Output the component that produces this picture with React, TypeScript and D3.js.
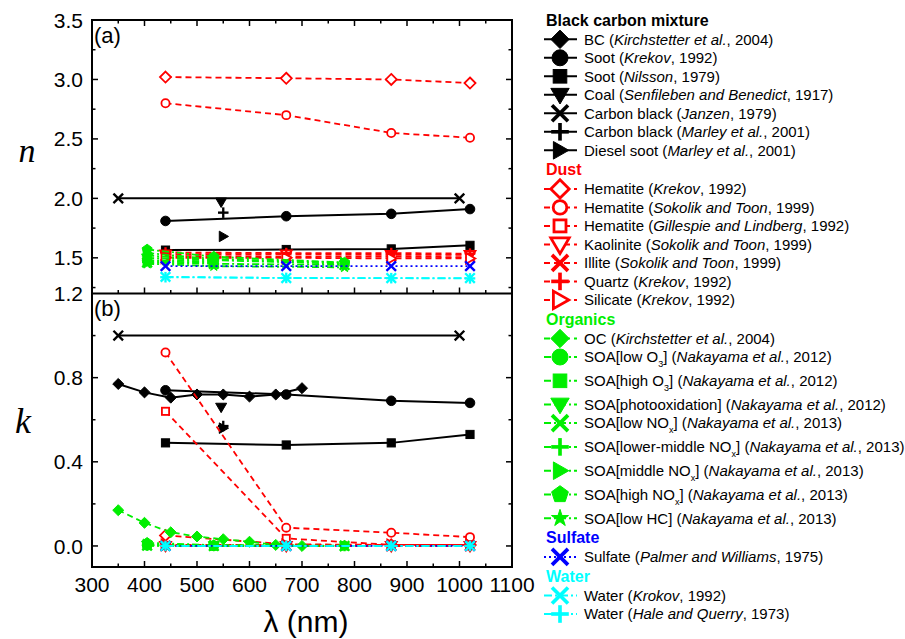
import React from 'react';
import * as d3 from 'd3';

// ---------- data ----------
const WL4 = [440, 670, 870, 1020];
const WL_BC = [350, 400, 450, 500, 550, 600, 650, 700];
const K_BC = [0.77, 0.73, 0.705, 0.72, 0.72, 0.71, 0.72, 0.75];
const N_SOOT_K = [1.81, 1.85, 1.87, 1.91];
const K_SOOT_K = [0.74, 0.72, 0.69, 0.68];
const N_SOOT_N = [1.565, 1.57, 1.575, 1.605];
const K_SOOT_N = [0.49, 0.48, 0.49, 0.53];
const WL_COAL = [546];
const N_COAL = [1.97];
const K_COAL = [0.66];
const WL_CBJ = [350, 1000];
const N_CBJ = [2.0, 2.0];
const K_CBJ = [1.0, 1.0];
const WL_MARLEY = [550];
const N_CBM = [1.88];
const K_CBM = [0.57];
const N_DIESEL = [1.68];
const K_DIESEL = [0.56];

const N_HEM_K = [3.02, 3.01, 3.0, 2.97];
const K_HEM_K = [0.05, 0.008, 0.005, 0.004];
const N_HEM_S = [2.8, 2.7, 2.55, 2.51];
const K_HEM_S = [0.92, 0.087, 0.063, 0.042];
const K_HEM_G = [0.64, 0.036, 0.005, 0.005];
const N_KAOL = [1.53, 1.53, 1.525, 1.525];
const K_KAOL = [0.001, 0.0005, 0.0005, 0.0005];
const N_ILL = [1.515, 1.51, 1.51, 1.505];
const K_ILL = [0.002, 0.001, 0.001, 0.001];
const N_QTZ = [1.545, 1.54, 1.54, 1.535];
const K_QTZ = [0, 0, 0, 0];
const N_SIL = [1.5, 1.5, 1.495, 1.495];
const K_SIL = [0.005, 0.005, 0.005, 0.005];

const WL_OC = [350, 400, 450, 500, 550, 600, 650, 700];
const K_OC = [0.17, 0.11, 0.065, 0.045, 0.032, 0.02, 0.005, 0.0];
const WL_N12 = [405, 532];
const WL_N13 = [405, 532, 781];
const N_LOWO3 = [1.48, 1.47];
const K_LOWO3 = [0.003, 0.0];
const N_HIGHO3 = [1.47, 1.46];
const K_HIGHO3 = [0.002, 0.0];
const N_PHOTO = [1.5, 1.48];
const K_PHOTO = [0.004, 0.002];
const N_LOWNOX = [1.46, 1.45, 1.44];
const K_LOWNOX = [0.002, 0.0, 0.0];
const N_LMNOX = [1.52, 1.48, 1.45];
const K_LMNOX = [0.005, 0.001, 0.0];
const N_MIDNOX = [1.54, 1.49, 1.46];
const K_MIDNOX = [0.008, 0.002, 0.0];
const N_HIGHNOX = [1.57, 1.51, 1.46];
const K_HIGHNOX = [0.015, 0.004, 0.001];
const N_LOWHC = [1.45, 1.43, 1.42];
const K_LOWHC = [0.003, 0.0, 0.0];

const N_SULF = [1.43, 1.43, 1.43, 1.43];
const K_SULF = [0, 0, 0, 0];
const N_WAT_K = [1.34, 1.33, 1.33, 1.33];
const K_WAT_K = [0, 0, 0, 0];
const N_WAT_H = [1.337, 1.331, 1.329, 1.327];
const K_WAT_H = [0, 0, 0, 0];

const X_TICKS = [300, 400, 500, 600, 700, 800, 900, 1000, 1100];
const NA_TICKS = [1.2, 1.5, 2.0, 2.5, 3.0, 3.5];
const NA_TICK_LABELS = ['1.2', '1.5', '2.0', '2.5', '3.0', '3.5'];
const KB_TICKS = [0.0, 0.4, 0.8];
const KB_TICK_LABELS = ['0.0', '0.4', '0.8'];

// ---------- styles ----------
const BLACK = '#000000';
const RED = '#ff0000';
const GREEN = '#00ee00';
const BLUE = '#0000ff';
const CYAN = '#00ffff';
const DASH_RED = '6,4';
const DASH_GREEN = '7,3,2,3';
const DASH_OC = '6,4';
const DOT = '2,3';
const DASH_DOT = '8,3,2,3';

type Series = {
  label: string; color: string; marker: string; open?: boolean; dash?: string;
  wl: number[]; n?: number[]; k?: number[];
};
type Group = { title: string; color: string; series: Series[] };

const GROUPS: Group[] = [
  {
    title: 'Black carbon mixture', color: BLACK, series: [
      { label: 'BC (<i>Kirchstetter et al.</i>, 2004)', color: BLACK, marker: 'diamond', wl: WL_BC, k: K_BC },
      { label: 'Soot (<i>Krekov</i>, 1992)', color: BLACK, marker: 'circle', wl: WL4, n: N_SOOT_K, k: K_SOOT_K },
      { label: 'Soot (<i>Nilsson</i>, 1979)', color: BLACK, marker: 'square', wl: WL4, n: N_SOOT_N, k: K_SOOT_N },
      { label: 'Coal (<i>Senfileben and Benedict</i>, 1917)', color: BLACK, marker: 'triDown', wl: WL_COAL, n: N_COAL, k: K_COAL },
      { label: 'Carbon black (<i>Janzen</i>, 1979)', color: BLACK, marker: 'x', wl: WL_CBJ, n: N_CBJ, k: K_CBJ },
      { label: 'Carbon black (<i>Marley et al.</i>, 2001)', color: BLACK, marker: 'plus', wl: WL_MARLEY, n: N_CBM, k: K_CBM },
      { label: 'Diesel soot (<i>Marley et al.</i>, 2001)', color: BLACK, marker: 'triRight', wl: WL_MARLEY, n: N_DIESEL, k: K_DIESEL },
    ]
  },
  {
    title: 'Dust', color: RED, series: [
      { label: 'Hematite (<i>Krekov</i>, 1992)', color: RED, marker: 'diamond', open: true, dash: DASH_RED, wl: WL4, n: N_HEM_K, k: K_HEM_K },
      { label: 'Hematite (<i>Sokolik and Toon</i>, 1999)', color: RED, marker: 'circle', open: true, dash: DASH_RED, wl: WL4, n: N_HEM_S, k: K_HEM_S },
      { label: 'Hematite (<i>Gillespie and Lindberg</i>, 1992)', color: RED, marker: 'square', open: true, dash: DASH_RED, wl: WL4, k: K_HEM_G },
      { label: 'Kaolinite (<i>Sokolik and Toon</i>, 1999)', color: RED, marker: 'triDown', open: true, dash: DASH_RED, wl: WL4, n: N_KAOL, k: K_KAOL },
      { label: 'Illite (<i>Sokolik and Toon</i>, 1999)', color: RED, marker: 'x', dash: DASH_RED, wl: WL4, n: N_ILL, k: K_ILL },
      { label: 'Quartz (<i>Krekov</i>, 1992)', color: RED, marker: 'plus', dash: DASH_RED, wl: WL4, n: N_QTZ, k: K_QTZ },
      { label: 'Silicate (<i>Krekov</i>, 1992)', color: RED, marker: 'triRight', open: true, dash: DASH_RED, wl: WL4, n: N_SIL, k: K_SIL },
    ]
  },
  {
    title: 'Organics', color: GREEN, series: [
      { label: 'OC (<i>Kirchstetter et al.</i>, 2004)', color: GREEN, marker: 'diamond', dash: DASH_OC, wl: WL_OC, k: K_OC },
      { label: 'SOA[low O_{3}] (<i>Nakayama et al.</i>, 2012)', color: GREEN, marker: 'circle', dash: DASH_GREEN, wl: WL_N12, n: N_LOWO3, k: K_LOWO3 },
      { label: 'SOA[high O_{3}] (<i>Nakayama et al.</i>, 2012)', color: GREEN, marker: 'square', dash: DASH_GREEN, wl: WL_N12, n: N_HIGHO3, k: K_HIGHO3 },
      { label: 'SOA[photooxidation] (<i>Nakayama et al.</i>, 2012)', color: GREEN, marker: 'triDown', dash: DASH_GREEN, wl: WL_N12, n: N_PHOTO, k: K_PHOTO },
      { label: 'SOA[low NO_{x}] (<i>Nakayama et al.</i>, 2013)', color: GREEN, marker: 'x', dash: DASH_GREEN, wl: WL_N13, n: N_LOWNOX, k: K_LOWNOX },
      { label: 'SOA[lower-middle NO_{x}] (<i>Nakayama et al.</i>, 2013)', color: GREEN, marker: 'plus', dash: DASH_GREEN, wl: WL_N13, n: N_LMNOX, k: K_LMNOX },
      { label: 'SOA[middle NO_{x}] (<i>Nakayama et al.</i>, 2013)', color: GREEN, marker: 'triRight', dash: DASH_GREEN, wl: WL_N13, n: N_MIDNOX, k: K_MIDNOX },
      { label: 'SOA[high NO_{x}] (<i>Nakayama et al.</i>, 2013)', color: GREEN, marker: 'pentagon', dash: DASH_GREEN, wl: WL_N13, n: N_HIGHNOX, k: K_HIGHNOX },
      { label: 'SOA[low HC] (<i>Nakayama et al.</i>, 2013)', color: GREEN, marker: 'star', dash: DASH_GREEN, wl: WL_N13, n: N_LOWHC, k: K_LOWHC },
    ]
  },
  {
    title: 'Sulfate', color: BLUE, series: [
      { label: 'Sulfate (<i>Palmer and Williams</i>, 1975)', color: BLUE, marker: 'x', dash: DOT, wl: WL4, n: N_SULF, k: K_SULF },
    ]
  },
  {
    title: 'Water', color: CYAN, series: [
      { label: 'Water (<i>Krokov</i>, 1992)', color: CYAN, marker: 'x', dash: DASH_DOT, wl: WL4, n: N_WAT_K, k: K_WAT_K },
      { label: 'Water (<i>Hale and Querry</i>, 1973)', color: CYAN, marker: 'plus', dash: DASH_DOT, wl: WL4, n: N_WAT_H, k: K_WAT_H },
    ]
  },
];

// ---------- geometry ----------
const W = 905, H = 639;
const L = 92, R = 512, TA = 20, MID = 293.5, BB = 567;
const X = d3.scaleLinear().domain([300, 1100]).range([L, R]);
const YA = d3.scaleLinear().domain([1.2, 3.5]).range([MID, TA]);
const YB = d3.scaleLinear().domain([-0.1, 1.2]).range([BB, MID]);
const FONT = "'Liberation Sans', Arial, Helvetica, sans-serif";
const SERIF = "'Liberation Serif', 'Times New Roman', serif";

function Marker({ type, x, y, r, color, open, sw }: any) {
  const fill = open ? '#ffffff' : color;
  const stroke = color;
  const ow = open ? sw : 1;
  switch (type) {
    case 'diamond': {
      const a = r * 1.15;
      return <polygon points={`${x},${y - a} ${x + a},${y} ${x},${y + a} ${x - a},${y}`} fill={fill} stroke={stroke} strokeWidth={ow} />;
    }
    case 'circle':
      return <circle cx={x} cy={y} r={open ? r * 0.85 : r} fill={fill} stroke={stroke} strokeWidth={ow} />;
    case 'square': {
      const a = open ? r * 0.75 : r * 0.85;
      return <rect x={x - a} y={y - a} width={2 * a} height={2 * a} fill={fill} stroke={stroke} strokeWidth={ow} />;
    }
    case 'triDown': {
      const a = r * 1.15;
      return <polygon points={`${x - a},${y - a * 0.7} ${x + a},${y - a * 0.7} ${x},${y + a}`} fill={fill} stroke={stroke} strokeWidth={ow} strokeLinejoin="miter" />;
    }
    case 'triRight': {
      const a = r * 1.1;
      return <polygon points={`${x - a * 0.75},${y - a} ${x + a},${y} ${x - a * 0.75},${y + a}`} fill={fill} stroke={stroke} strokeWidth={ow} />;
    }
    case 'pentagon': {
      const pts = d3.range(5).map(i => {
        const t = -Math.PI / 2 + i * 2 * Math.PI / 5;
        return `${x + r * 1.1 * Math.cos(t)},${y + r * 1.1 * Math.sin(t)}`;
      }).join(' ');
      return <polygon points={pts} fill={fill} stroke={stroke} strokeWidth={ow} />;
    }
    case 'star': {
      const p = d3.symbol(d3.symbolStar, r * r * 1.4)();
      return <path d={p as string} transform={`translate(${x},${y})`} fill={fill} stroke={stroke} strokeWidth={1} />;
    }
    case 'x': {
      const a = r;
      return <g stroke={stroke} strokeWidth={sw * 1.3} strokeLinecap="butt">
        <line x1={x - a} y1={y - a} x2={x + a} y2={y + a} />
        <line x1={x - a} y1={y + a} x2={x + a} y2={y - a} />
      </g>;
    }
    case 'plus': {
      const a = r * 1.1;
      return <g stroke={stroke} strokeWidth={sw * 1.3}>
        <line x1={x - a} y1={y} x2={x + a} y2={y} />
        <line x1={x} y1={y - a} x2={x} y2={y + a} />
      </g>;
    }
    default:
      return null;
  }
}

function RichText({ s, x, y, size }: any) {
  const parts = s.split(/(<i>.*?<\/i>|_\{.*?\})/).filter((p: string) => p.length);
  let shifted = false;
  const out: any[] = [];
  parts.forEach((p: string, i: number) => {
    if (p.startsWith('<i>')) {
      out.push(<tspan key={i} fontStyle="italic" dy={shifted ? -5 : 0}>{p.slice(3, -4)}</tspan>);
      shifted = false;
    } else if (p.startsWith('_{')) {
      out.push(<tspan key={i} fontSize={size * 0.6} dy={5}>{p.slice(2, -1)}</tspan>);
      shifted = true;
    } else {
      out.push(<tspan key={i} dy={shifted ? -5 : 0}>{p}</tspan>);
      shifted = false;
    }
  });
  return <text x={x} y={y} fontFamily={FONT} fontSize={size} fill="#000">{out}</text>;
}

function Panel({ yScale, key_ }: any) {
  const line = d3.line<[number, number]>().x(d => X(d[0])).y(d => yScale(d[1]));
  const els: any[] = [];
  GROUPS.forEach((g, gi) => g.series.forEach((s, si) => {
    const vals = key_ === 'n' ? s.n : s.k;
    if (!vals) return;
    const pts: [number, number][] = s.wl.map((w, i) => [w, vals[i]]);
    if (pts.length > 1) {
      els.push(<path key={`l${gi}-${si}`} d={line(pts) as string} fill="none" stroke={s.color}
        strokeWidth={s.color === BLACK ? 2 : 1.8} strokeDasharray={s.dash} />);
    }
    pts.forEach((p, i) => {
      els.push(<Marker key={`m${gi}-${si}-${i}`} type={s.marker} x={X(p[0])} y={yScale(p[1])}
        r={4.8} color={s.color} open={s.open} sw={1.8} />);
    });
  }));
  return <g>{els}</g>;
}

function Legend() {
  const items: any[] = [];
  let y = 20;
  let prev: 'header' | 'item' | null = null;
  let prevSub = false;
  GROUPS.forEach((g, gi) => {
    if (prev) y += 19.3 + (prevSub ? 5.3 : 0);
    items.push(<text key={`h${gi}`} x={546} y={y + 5.5} fontFamily={FONT} fontWeight="bold" fontSize={16} fill={g.color}>{g.title}</text>);
    prev = 'header'; prevSub = false;
    g.series.forEach((s, si) => {
      y += (prev === 'header' ? 19.3 : 18.5) + (prevSub ? 5.3 : 0);
      items.push(<g key={`i${gi}-${si}`}>
        <line x1={544} x2={577} y1={y} y2={y} stroke={s.color} strokeWidth={2} strokeDasharray={s.dash} />
        <Marker type={s.marker} x={560} y={y} r={8} color={s.color} open={s.open} sw={2.8} />
        <RichText s={s.label} x={584} y={y + 5.3} size={15} />
      </g>);
      prev = 'item';
      prevSub = s.label.includes('_{');
    });
  });
  return <g>{items}</g>;
}

function Axes() {
  const els: any[] = [];
  const xMinor = d3.range(300, 1101, 50);
  xMinor.forEach(v => {
    const major = v % 100 === 0;
    const len = major ? 6 : 3.5;
    const x = X(v);
    els.push(<line key={`xt-b${v}`} x1={x} x2={x} y1={BB} y2={BB - len} stroke="#000" strokeWidth={1.5} />);
    els.push(<line key={`xt-m${v}`} x1={x} x2={x} y1={MID} y2={MID - len} stroke="#000" strokeWidth={1.5} />);
    els.push(<line key={`xt-t${v}`} x1={x} x2={x} y1={TA} y2={TA + len} stroke="#000" strokeWidth={1.5} />);
  });
  X_TICKS.forEach(v => {
    els.push(<text key={`xl${v}`} x={X(v)} y={592} textAnchor="middle" fontFamily={FONT} fontSize={21}>{v}</text>);
  });
  // panel a y ticks
  d3.range(1.25, 3.51, 0.25).forEach(v => {
    const major = Math.abs(v * 2 - Math.round(v * 2)) < 1e-6;
    const len = major ? 6 : 3.5;
    const y = YA(v);
    els.push(<line key={`ya-l${v}`} x1={L} x2={L + len} y1={y} y2={y} stroke="#000" strokeWidth={1.5} />);
    els.push(<line key={`ya-r${v}`} x1={R} x2={R - len} y1={y} y2={y} stroke="#000" strokeWidth={1.5} />);
  });
  NA_TICKS.forEach((v, i) => {
    els.push(<text key={`yal${v}`} x={83} y={YA(v)} dy="0.36em" textAnchor="end" fontFamily={FONT} fontSize={21}>{NA_TICK_LABELS[i]}</text>);
  });
  // panel b y ticks
  d3.range(0, 1.01, 0.2).forEach(v => {
    const major = Math.round(v * 10) % 4 === 0;
    const len = major ? 6 : 3.5;
    const y = YB(v);
    els.push(<line key={`yb-l${v}`} x1={L} x2={L + len} y1={y} y2={y} stroke="#000" strokeWidth={1.5} />);
    els.push(<line key={`yb-r${v}`} x1={R} x2={R - len} y1={y} y2={y} stroke="#000" strokeWidth={1.5} />);
  });
  KB_TICKS.forEach((v, i) => {
    els.push(<text key={`ybl${v}`} x={83} y={YB(v)} dy="0.36em" textAnchor="end" fontFamily={FONT} fontSize={21}>{KB_TICK_LABELS[i]}</text>);
  });
  return <g>{els}</g>;
}

export default function App() {
  return (
    <svg width={W} height={H} style={{ position: 'absolute', left: 0, top: 0, background: '#fff' }}>
      <rect x={0} y={0} width={W} height={H} fill="#fff" />
      <Panel yScale={YA} key_="n" />
      <Panel yScale={YB} key_="k" />
      <Axes />
      <rect x={L} y={TA} width={R - L} height={BB - TA} fill="none" stroke="#000" strokeWidth={2} />
      <line x1={L} x2={R} y1={MID} y2={MID} stroke="#000" strokeWidth={2} />
      <text x={94} y={43} fontFamily={FONT} fontSize={22}>(a)</text>
      <text x={94} y={316} fontFamily={FONT} fontSize={22}>(b)</text>
      <text x={27} y={162} textAnchor="middle" fontFamily={SERIF} fontStyle="italic" fontSize={34}>n</text>
      <text x={23} y={433} textAnchor="middle" fontFamily={SERIF} fontStyle="italic" fontSize={36}>k</text>
      <text x={306} y={632} textAnchor="middle" fontFamily={FONT} fontSize={30}>λ (nm)</text>
      <Legend />
    </svg>
  );
}
